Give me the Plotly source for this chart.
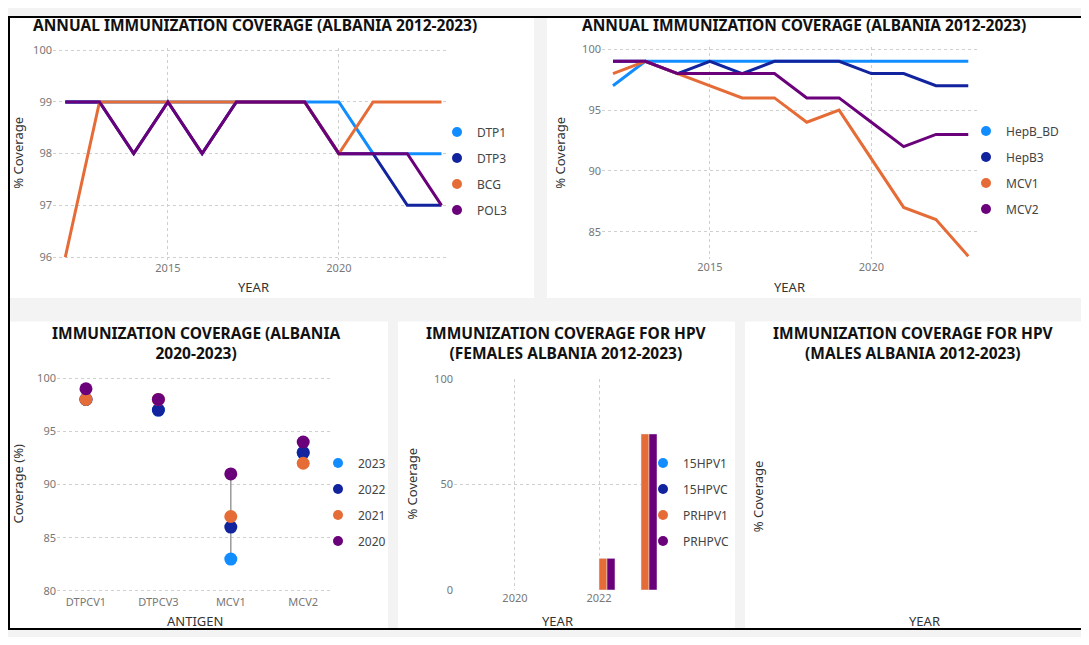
import plotly.graph_objects as go

# page is shown with the browser's default 8px body margin, so the figure is
# sized to fit inside the 1089x645 window
W, H = 1073, 629
OFF = 8

# ---- data ----
years = [2012, 2013, 2014, 2015, 2016, 2017, 2018, 2019, 2020, 2021, 2022, 2023]

dtp1 = [99, 99, 99, 99, 99, 99, 99, 99, 99, 98, 98, 98]
dtp3 = [99, 99, 98, 99, 98, 99, 99, 99, 98, 98, 97, 97]
bcg = [96, 99, 99, 99, 99, 99, 99, 99, 98, 99, 99, 99]
pol3 = [99, 99, 98, 99, 98, 99, 99, 99, 98, 98, 98, 97]

hepb_bd = [97, 99, 99, 99, 99, 99, 99, 99, 99, 99, 99, 99]
hepb3 = [99, 99, 98, 99, 98, 99, 99, 99, 98, 98, 97, 97]
mcv1 = [98, 99, 98, 97, 96, 96, 94, 95, 91, 87, 86, 83]
mcv2 = [99, 99, 98, 98, 98, 98, 96, 96, 94, 92, 93, 93]

antigens = ["DTPCV1", "DTPCV3", "MCV1", "MCV2"]
cov_2023 = [98, 97, 83, 93]
cov_2022 = [98, 97, 86, 93]
cov_2021 = [98, 98, 87, 92]
cov_2020 = [99, 98, 91, 94]

hpv_years = [2022, 2023]
hpv_15hpv1 = [None, None]
hpv_15hpvc = [None, None]
hpv_prhpv1 = [15, 74]
hpv_prhpvc = [15, 74]

C_LBLUE = "#118DFF"
C_DBLUE = "#12239E"
C_ORANGE = "#E66C37"
C_PURPLE = "#6B007B"

FONT = "Noto Sans"
TICK_FONT = dict(family=FONT, size=11, color="#777777")
LEG_FONT = dict(family=FONT, size=12, color="#444444")


# screen pixel -> paper fraction
def px_x(p):
    return (p - OFF) / W


def px_y(p):
    return 1 - (p - OFF) / H


def dom_x(a, b):
    return [px_x(a), px_x(b)]


def dom_y(top, bottom):
    return [px_y(bottom), px_y(top)]


def legend_dot(fig, name, col, legend, group, xa, ya):
    # round legend swatch like the Power BI legends
    fig.add_trace(go.Scatter(x=[None], y=[None], mode="markers", name=name,
                             marker=dict(color=col, size=10), legend=legend,
                             legendgroup=group + name, xaxis=xa, yaxis=ya))


fig = go.Figure()

# ---- panel 1: annual coverage DTP1/DTP3/BCG/POL3 ----
for name, vals, col in [("DTP1", dtp1, C_LBLUE), ("DTP3", dtp3, C_DBLUE),
                        ("BCG", bcg, C_ORANGE), ("POL3", pol3, C_PURPLE)]:
    fig.add_trace(go.Scatter(x=years, y=vals, mode="lines", name=name,
                             line=dict(color=col, width=3), showlegend=False,
                             xaxis="x", yaxis="y"))
    legend_dot(fig, name, col, "legend", "a", "x", "y")

# ---- panel 2: HepB / MCV ----
for name, vals, col in [("HepB_BD", hepb_bd, C_LBLUE), ("HepB3", hepb3, C_DBLUE),
                        ("MCV1", mcv1, C_ORANGE), ("MCV2", mcv2, C_PURPLE)]:
    fig.add_trace(go.Scatter(x=years, y=vals, mode="lines", name=name,
                             line=dict(color=col, width=3), showlegend=False,
                             xaxis="x2", yaxis="y2"))
    legend_dot(fig, name, col, "legend2", "b", "x2", "y2")

# ---- panel 3: dot plot 2020-2023 ----
series3 = [("2023", cov_2023, C_LBLUE), ("2022", cov_2022, C_DBLUE),
           ("2021", cov_2021, C_ORANGE), ("2020", cov_2020, C_PURPLE)]
rx, ry = [], []
for i, a in enumerate(antigens):
    col_vals = [s[1][i] for s in series3]
    rx += [a, a, None]
    ry += [min(col_vals), max(col_vals), None]
fig.add_trace(go.Scatter(x=rx, y=ry, mode="lines", line=dict(color="#999999", width=1.5),
                         showlegend=False, hoverinfo="skip", xaxis="x3", yaxis="y3"))
for name, vals, col in series3:
    fig.add_trace(go.Scatter(x=antigens, y=vals, mode="markers", name=name,
                             marker=dict(color=col, size=13), showlegend=False,
                             xaxis="x3", yaxis="y3"))
    legend_dot(fig, name, col, "legend3", "c", "x3", "y3")

# ---- panel 4: HPV females ----
for name, vals, col in [("15HPV1", hpv_15hpv1, C_LBLUE), ("15HPVC", hpv_15hpvc, C_DBLUE),
                        ("PRHPV1", hpv_prhpv1, C_ORANGE), ("PRHPVC", hpv_prhpvc, C_PURPLE)]:
    fig.add_trace(go.Bar(x=hpv_years, y=vals, name=name, marker_color=col,
                         showlegend=False, xaxis="x4", yaxis="y4"))
    legend_dot(fig, name, col, "legend4", "d", "x4", "y4")

grid = dict(showgrid=True, gridcolor="#cfcfcf", griddash="dot", gridwidth=1,
            zeroline=False, showline=False, ticks="", tickfont=TICK_FONT)

layout = dict(
    width=W, height=H,
    margin=dict(l=0, r=0, t=0, b=0),
    paper_bgcolor="#f3f3f3",
    plot_bgcolor="white",
    barmode="group", bargap=0.24, bargroupgap=0,
    xaxis=dict(domain=dom_x(53, 448), range=[2011.64, 2023.19], tickvals=[2015, 2020],
               anchor="y", **grid),
    yaxis=dict(domain=dom_y(40.4, 257.6), range=[95.95, 100.05], dtick=1,
               anchor="x", **grid),
    xaxis2=dict(domain=dom_x(602, 977), range=[2011.66, 2023.27], tickvals=[2015, 2020],
                anchor="y2", **grid),
    yaxis2=dict(domain=dom_y(39.5, 256.5), range=[82.8, 100.2], tickvals=[85, 90, 95, 100],
                anchor="x2", **grid),
    xaxis3=dict(domain=dom_x(57, 330), range=[-0.4, 3.37], type="category",
                anchor="y3", **{**grid, "showgrid": False}),
    yaxis3=dict(domain=dom_y(375.7, 600.3), range=[79.7, 100.3], tickvals=[80, 85, 90, 95, 100],
                anchor="x3", **grid),
    xaxis4=dict(domain=dom_x(454, 657), range=[2018.55, 2023.38], tickvals=[2020, 2022],
                anchor="y4", **grid),
    yaxis4=dict(domain=dom_y(380, 596), range=[0, 100], tickvals=[0, 50, 100],
                anchor="x4", **grid),
)

leg = dict(font=LEG_FONT, bgcolor="rgba(0,0,0,0)", tracegroupgap=7,
           xanchor="left", yanchor="top", itemclick=False)
layout["legend"] = dict(x=px_x(437), y=px_y(112), **leg)
layout["legend2"] = dict(x=px_x(966), y=px_y(111), **leg)
layout["legend3"] = dict(x=px_x(318), y=px_y(451), **leg)
layout["legend4"] = dict(x=px_x(643), y=px_y(451), **leg)

fig.update_layout(**layout)

# panel backgrounds and outer frame
panels = [(9, 9, 534, 297), (547, 9, 1081, 297), (9, 321, 388, 637),
          (398, 321, 735, 637), (745, 321, 1081, 637)]
for x0, y0, x1, y1 in panels:
    fig.add_shape(type="rect", xref="paper", yref="paper", layer="below",
                  x0=px_x(x0), x1=px_x(x1), y0=px_y(y1), y1=px_y(y0),
                  fillcolor="white", line_width=0)
fig.add_shape(type="rect", xref="paper", yref="paper", x0=px_x(9), x1=px_x(1100),
              y0=px_y(636), y1=px_y(9), line=dict(color="black", width=2))

# titles
TITLE_FONT = dict(family=FONT, size=15.5, color="#111111")
AXT_FONT = dict(family=FONT, size=13, color="#333333")
texts = [
    (255, 17, "<b>ANNUAL IMMUNIZATION COVERAGE (ALBANIA 2012-2023)</b>", TITLE_FONT, 0),
    (804, 17, "<b>ANNUAL IMMUNIZATION COVERAGE (ALBANIA 2012-2023)</b>", TITLE_FONT, 0),
    (196, 343, "<b>IMMUNIZATION COVERAGE (ALBANIA<br>2020-2023)</b>", TITLE_FONT, 0),
    (566, 343, "<b>IMMUNIZATION COVERAGE FOR HPV<br>(FEMALES ALBANIA 2012-2023)</b>", TITLE_FONT, 0),
    (913, 343, "<b>IMMUNIZATION COVERAGE FOR HPV<br>(MALES ALBANIA 2012-2023)</b>", TITLE_FONT, 0),
    (253, 286, "YEAR", AXT_FONT, 0),
    (789, 286, "YEAR", AXT_FONT, 0),
    (195, 628, "ANTIGEN", AXT_FONT, 0),
    (557, 628, "YEAR", AXT_FONT, 0),
    (924, 628, "YEAR", AXT_FONT, 0),
    (18, 148, "% Coverage", AXT_FONT, -90),
    (560, 148, "% Coverage", AXT_FONT, -90),
    (18, 487, "Coverage (%)", AXT_FONT, -90),
    (412, 487, "% Coverage", AXT_FONT, -90),
    (758, 500, "% Coverage", AXT_FONT, -90),
]
for x, y, t, f, ang in texts:
    fig.add_annotation(x=px_x(x), y=px_y(y), xref="paper", yref="paper", text=t,
                       showarrow=False, font=f, textangle=ang,
                       xanchor="center", yanchor="middle")

fig.write_html("out.html")
